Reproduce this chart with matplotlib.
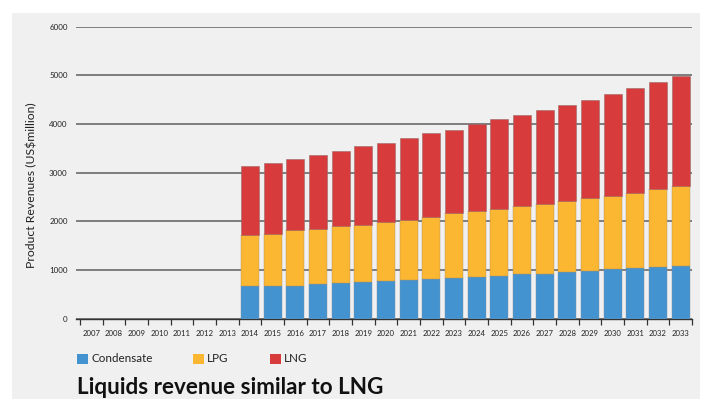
import matplotlib
matplotlib.use("Agg")
import matplotlib.pyplot as plt
from matplotlib.patches import Rectangle
import numpy as np

years = [str(y) for y in range(2007, 2034)]
condensate = [0]*7 + [666, 678, 678, 719, 740, 754, 781, 801, 822, 836, 863, 884, 925, 925, 960, 980, 1015, 1035, 1062, 1089]
lpg_top = [0]*7 + [1720, 1747, 1822, 1843, 1905, 1932, 1993, 2035, 2096, 2165, 2206, 2254, 2309, 2357, 2418, 2480, 2521, 2589, 2658, 2733]
total = [0]*7 + [3137, 3190, 3280, 3360, 3445, 3545, 3615, 3720, 3815, 3875, 3995, 4100, 4185, 4295, 4395, 4500, 4625, 4735, 4870, 4990]
lpg = [t - c for t, c in zip(lpg_top, condensate)]
lng = [t - l for t, l in zip(total, lpg_top)]
yticks = [0, 1000, 2000, 3000, 4000, 5000, 6000]
series_names = ["Condensate", "LPG", "LNG"]
colors = ["#4393d1", "#fbb632", "#d83b3b"]

W, H = 705, 399
fig = plt.figure(figsize=(W/100, H/100), dpi=100)
fig.patch.set_facecolor("white")
fig.patches.append(Rectangle((12/W, 0), (700-12)/W, (H-13)/H, transform=fig.transFigure,
                             facecolor="#f0f0f0", edgecolor="none", zorder=-10))

left, right = 76, 692
top, bottom = 26.7, 318.7
ax = fig.add_axes([left/W, (H-bottom)/H, (right-left)/W, (bottom-top)/H])
ax.set_facecolor("none")
ax.set_zorder(5)

x = np.arange(len(years))
idx = [i for i, v in enumerate(total) if v > 0]
xb = x[idx]
c = np.array(condensate)[idx]
l = np.array(lpg)[idx]
n = np.array(lng)[idx]
w = 0.78
ax.bar(xb, c, width=w, color=colors[0], zorder=3, edgecolor="#7a8fa0", linewidth=0.3)
ax.bar(xb, l, bottom=c, width=w, color=colors[1], zorder=3, edgecolor="#b09060", linewidth=0.3)
ax.bar(xb, n, bottom=c+l, width=w, color=colors[2], zorder=3, edgecolor="#9a6a6a", linewidth=0.4)

ax.set_xlim(-0.5 - 4/22.65, 26.5)
ax.set_ylim(0, 6000)
ax.set_yticks(yticks)
ax.set_yticklabels([str(v) for v in yticks], fontsize=5.8, family="Lato", color="#222222")
ax.tick_params(axis="y", length=0, pad=6)
ax.yaxis.grid(True, color="#5f5f5f", linewidth=1.1, zorder=0)
ax.set_axisbelow(True)

ax.set_xticks(x)
ax.set_xticklabels(years, fontsize=5.6, family="Lato", color="#222222")
ax.tick_params(axis="x", which="major", length=0, pad=8)
ax.set_xticks(np.arange(len(years)+1) - 0.5, minor=True)
ax.tick_params(axis="x", which="minor", length=4, width=0.9, color="#333333", direction="out")

for s in ["top", "right", "left"]:
    ax.spines[s].set_visible(False)
ax.spines["bottom"].set_color("#333333")
ax.spines["bottom"].set_linewidth(1.0)

ax.set_ylabel("Product Revenues (US$million)", fontsize=8.8, family="Lato", color="#222222")
ax.yaxis.set_label_coords((32 - left) / (right - left), (bottom - 185) / (bottom - top))
ax.yaxis.label.set_va("center")

# legend
leg_items = [(77, series_names[0]), (193, series_names[1]), (270, series_names[2])]
for (px, name), col in zip(leg_items, colors):
    fig.patches.append(Rectangle((px/W, (H-364)/H), 11/W, 10/H, transform=fig.transFigure,
                                 facecolor=col, edgecolor="none", zorder=2))
    fig.text((px+14)/W, (H-359)/H, name, fontsize=8.4, family="Lato", va="center", ha="left", color="#222222")

fig.text(77/W, (H-387)/H, "Liquids revenue similar to LNG", fontsize=16.2, family="Lato",
         fontweight="bold", va="center", ha="left", color="#111111")

fig.savefig("out.png", dpi=100, facecolor="white")
